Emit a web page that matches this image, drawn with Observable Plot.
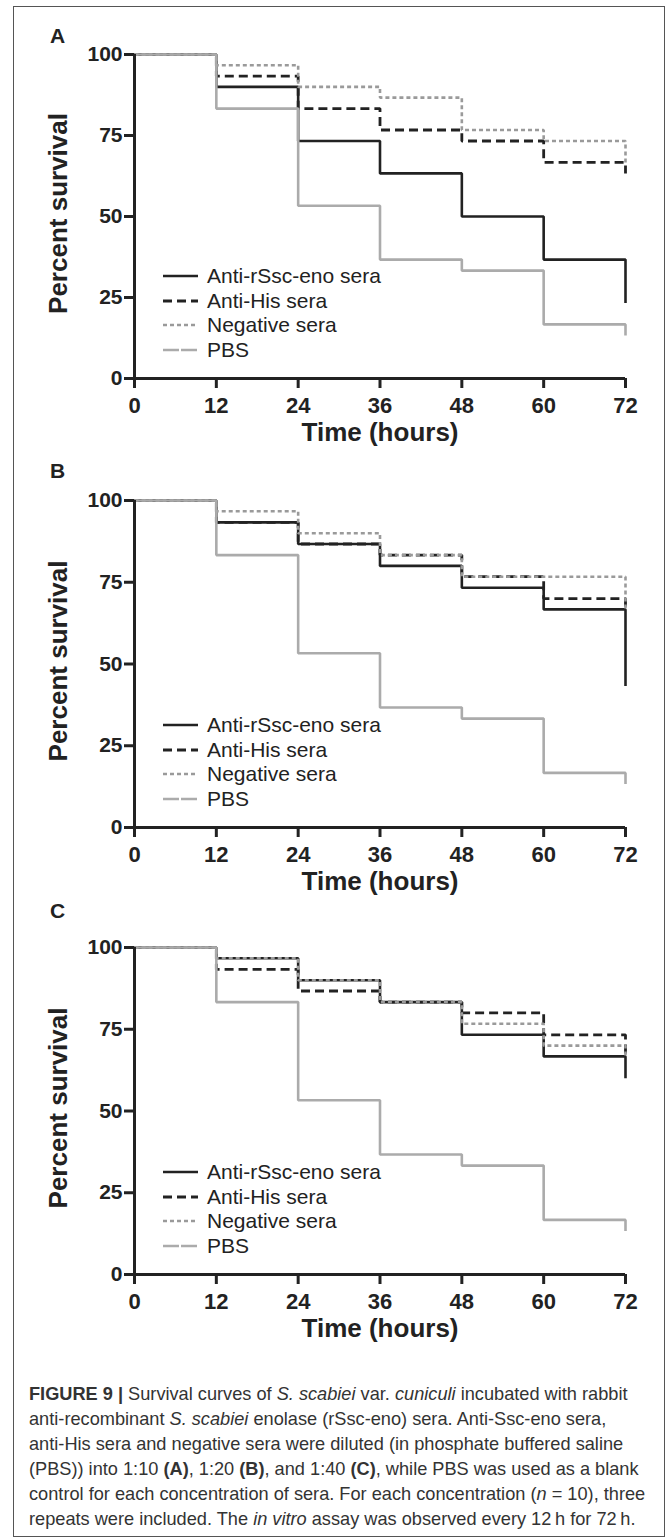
<!DOCTYPE html>
<html>
<head>
<meta charset="utf-8">
<script src="https://cdn.jsdelivr.net/npm/d3@7"></script>
<script src="https://cdn.jsdelivr.net/npm/@observablehq/plot@0.6"></script>
<style>
  html, body { margin: 0; padding: 0; background: #fff; }
  body { width: 669px; height: 1540px; overflow: hidden; font-family: "Liberation Sans", Arial, sans-serif; color: #222; }
  #root { position: relative; width: 669px; height: 1540px; }
  .frame { position: absolute; left: 13px; top: 6px; width: 652px; height: 1531px; border: 1.5px solid #555; box-sizing: border-box; }
  .panel { position: absolute; left: 0; }
  .letter { position: absolute; left: 50px; font-weight: bold; font-size: 21px; line-height: 21px; }
  .legend { position: absolute; left: 163px; font-size: 21px; }
  .legend .row { position: absolute; left: 0; height: 24px; white-space: nowrap; display: flex; align-items: center; }
  .legend svg { margin-right: 9px; }
  .caption { position: absolute; left: 29px; top: 1382px; font-size: 18.2px; line-height: 25px; white-space: nowrap; color: #333; }
</style>
</head>
<body>
<div id="root"><div class="frame"></div></div>
<script>
const times = [0, 12, 24, 36, 48, 60, 72];
const seriesNames = ["Anti-rSsc-eno sera", "Anti-His sera", "Negative sera", "PBS"];
const yTicks = [0, 25, 50, 75, 100];
const panelLetters = ["A", "B", "C"];

// Panel A (1:10)
const aRssc = [100, 90, 73.3, 63.3, 50, 36.7, 23.3];
const aHis  = [100, 93.3, 83.3, 76.7, 73.3, 66.7, 63.3];
const aNeg  = [100, 96.7, 90, 86.7, 76.7, 73.3, 66.7];
const aPbs  = [100, 83.3, 53.3, 36.7, 33.3, 16.7, 13.3];
// Panel B (1:20)
const bRssc = [100, 93.3, 86.7, 80, 73.3, 66.7, 43.3];
const bHis  = [100, 93.3, 86.7, 83.3, 76.7, 70, 66.7];
const bNeg  = [100, 96.7, 90, 83.3, 76.7, 76.7, 66.7];
const bPbs  = [100, 83.3, 53.3, 36.7, 33.3, 16.7, 13.3];
// Panel C (1:40)
const cRssc = [100, 96.7, 90, 83.3, 73.3, 66.7, 60];
const cHis  = [100, 93.3, 86.7, 83.3, 80, 73.3, 66.7];
const cNeg  = [100, 96.7, 90, 83.3, 76.7, 70, 66.7];
const cPbs  = [100, 83.3, 53.3, 36.7, 33.3, 16.7, 13.3];

const styles = [
  {stroke: "#222", strokeWidth: 2.6, dash: null},
  {stroke: "#222", strokeWidth: 2.8, dash: "9,5"},
  {stroke: "#9a9a9a", strokeWidth: 2.6, dash: "4,3"},
  {stroke: "#ababab", strokeWidth: 2.6, dash: null}
];

const panels = [
  {series: [aRssc, aHis, aNeg, aPbs], top: 34, plotH: 324, letterTop: 25},
  {series: [bRssc, bHis, bNeg, bPbs], top: 480, plotH: 327, letterTop: 460},
  {series: [cRssc, cHis, cNeg, cPbs], top: 927, plotH: 327, letterTop: 900}
];

const root = document.getElementById("root");
const FONT = "'Liberation Sans', Arial, sans-serif";
const MT = 20, MB = 82;

panels.forEach((p, pi) => {
  const marks = [];
  p.series.forEach((vals, si) => {
    const data = times.map((t, i) => ({t, v: vals[i]}));
    const st = styles[si];
    marks.push(Plot.line(data, {
      x: "t", y: "v", curve: "step-after",
      stroke: st.stroke, strokeWidth: st.strokeWidth,
      strokeDasharray: st.dash, strokeLinecap: "butt", strokeLinejoin: "miter"
    }));
  });
  marks.push(Plot.ruleX([0], {y1: 0, y2: 100, stroke: "#222", strokeWidth: 3}));
  marks.push(Plot.ruleY([0], {x1: 0, x2: 72, stroke: "#222", strokeWidth: 3}));
  marks.push(Plot.axisY({ticks: yTicks, tickSize: 10, tickPadding: 2, strokeWidth: 3, stroke: "#222",
    fontSize: 21, fontWeight: "bold", fill: "#222", label: null}));
  marks.push(Plot.axisX({ticks: times, tickSize: 10, tickPadding: 9, strokeWidth: 3, stroke: "#222",
    fontSize: 22, fontWeight: "bold", fill: "#222", label: null}));
  marks.push(Plot.text(["Time (hours)"], {frameAnchor: "bottom", dy: 62, fontSize: 26, fontWeight: "bold", fill: "#222"}));
  marks.push(Plot.text(["Percent survival"], {frameAnchor: "left", dx: -76, dy: -3, rotate: -90, textAnchor: "middle",
    fontSize: 26, fontWeight: "bold", fill: "#222"}));

  const chart = Plot.plot({
    width: 669, height: MT + p.plotH + MB,
    marginLeft: 134, marginRight: 44, marginTop: MT, marginBottom: MB,
    x: {domain: [0, 72], axis: null},
    y: {domain: [0, 100], axis: null},
    style: {background: "transparent", overflow: "visible", fontFamily: FONT, color: "#222"},
    marks
  });
  const wrap = document.createElement("div");
  wrap.className = "panel";
  wrap.style.top = p.top + "px";
  wrap.appendChild(chart);
  root.appendChild(wrap);

  const letter = document.createElement("div");
  letter.className = "letter";
  letter.style.top = p.letterTop + "px";
  letter.textContent = panelLetters[pi];
  root.appendChild(letter);

  // legend
  const y0 = p.top + MT + p.plotH;
  const leg = document.createElement("div");
  leg.className = "legend";
  leg.style.top = (y0 - 114) + "px";
  seriesNames.forEach((name, si) => {
    const st = styles[si];
    const row = document.createElement("div");
    row.className = "row";
    row.style.top = (si * 24.7) + "px";
    const dash = si === 3 ? "16,2" : (st.dash || "none");
    row.innerHTML = `<svg width="35" height="10"><line x1="0" x2="35" y1="5" y2="5" stroke="${st.stroke}" stroke-width="${st.strokeWidth}" stroke-dasharray="${dash}"/></svg><span>${name}</span>`;
    leg.appendChild(row);
  });
  root.appendChild(leg);
});

const cap = document.createElement("div");
cap.className = "caption";
cap.innerHTML =
  "<b>FIGURE 9 |</b> Survival curves of <i>S. scabiei</i> var. <i>cuniculi</i> incubated with rabbit<br>" +
  "anti-recombinant <i>S. scabiei</i> enolase (rSsc-eno) sera. Anti-Ssc-eno sera,<br>" +
  "anti-His sera and negative sera were diluted (in phosphate buffered saline<br>" +
  "(PBS)) into 1:10 <b>(A)</b>, 1:20 <b>(B)</b>, and 1:40 <b>(C)</b>, while PBS was used as a blank<br>" +
  "control for each concentration of sera. For each concentration (<i>n</i> = 10), three<br>" +
  "repeats were included. The <i>in vitro</i> assay was observed every 12&#8201;h for 72&#8201;h.";
root.appendChild(cap);
</script>
</body>
</html>
